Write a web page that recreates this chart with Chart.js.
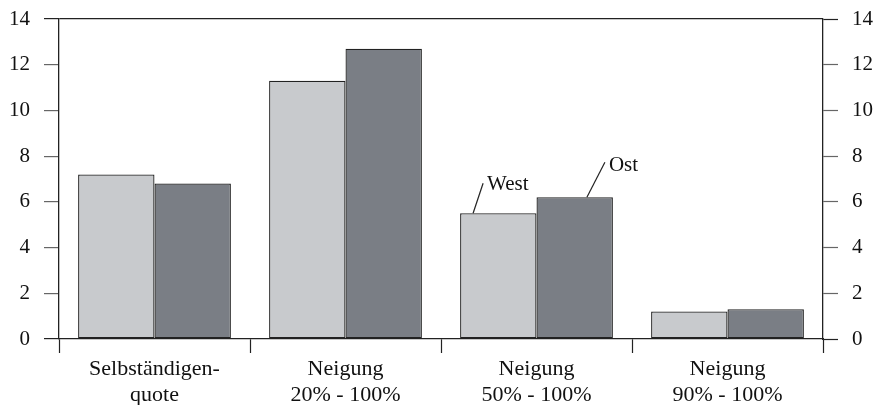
<!DOCTYPE html>
<html>
<head>
<meta charset="utf-8">
<script src="https://cdn.jsdelivr.net/npm/chart.js@4/dist/chart.umd.min.js"></script>
<style>
  html, body { margin: 0; padding: 0; background: #fff; }
  canvas { display: block; }
</style>
</head>
<body>
<canvas id="c" width="875" height="405"></canvas>
<script>
const categories = [
  ["Selbständigen-", "quote"],
  ["Neigung", "20% - 100%"],
  ["Neigung", "50% - 100%"],
  ["Neigung", "90% - 100%"]
];
const westValues = [7.2, 11.3, 5.5, 1.2];
const ostValues  = [6.8, 12.7, 6.2, 1.3];
const seriesNames = ["West", "Ost"];
const yTicks = [0, 2, 4, 6, 8, 10, 12, 14];

const FONT = "'Liberation Serif', 'Times New Roman', serif";
const DARK = '#222222';

const tickCol = (ctx) => (ctx.tick && (ctx.tick.value === 14 || ctx.tick.value === 0)) ? DARK : '#666666';

const annotatePlugin = {
  id: 'annotate',
  afterDatasetsDraw(chart) {
    const c = chart.ctx;
    const w = chart.getDatasetMeta(0).data[2];
    const o = chart.getDatasetMeta(1).data[2];
    c.save();
    c.strokeStyle = DARK;
    c.lineWidth = 1.2;
    c.fillStyle = '#111';
    c.font = '21px ' + FONT;
    c.textBaseline = 'alphabetic';
    // West
    let x0 = w.x - w.width / 2 + 13, y0 = w.y;
    let x1 = x0 + 10, y1 = y0 - 30;
    c.beginPath(); c.moveTo(x0, y0); c.lineTo(x1, y1); c.stroke();
    c.fillText(seriesNames[0], x1 + 4, y0 - 23);
    // Ost
    x0 = o.x + o.width / 2 - 26; y0 = o.y;
    x1 = x0 + 18; y1 = y0 - 35;
    c.beginPath(); c.moveTo(x0, y0); c.lineTo(x1, y1); c.stroke();
    c.fillText(seriesNames[1], x1 + 4, y0 - 26);
    c.restore();
  }
};

function fitY(width) {
  return function (s) {
    s.width = width;
    s.paddingTop = 0;
    s.paddingBottom = 0;
  };
}

new Chart(document.getElementById('c'), {
  type: 'bar',
  data: {
    labels: categories,
    datasets: [
      { label: seriesNames[0], data: westValues, backgroundColor: '#c8cacd', borderColor: DARK, borderWidth: 1.3, borderSkipped: false, yAxisID: 'y' },
      { label: seriesNames[1], data: ostValues, backgroundColor: '#7a7e85', borderColor: DARK, borderWidth: 1.3, borderSkipped: false, yAxisID: 'y' }
    ]
  },
  options: {
    responsive: false,
    animation: false,
    devicePixelRatio: 1,
    layout: { padding: { top: 19, left: 0, right: 0, bottom: 0 } },
    plugins: { legend: { display: false }, tooltip: { enabled: false } },
    datasets: { bar: { categoryPercentage: 0.8, barPercentage: 1.0 } },
    scales: {
      x: {
        type: 'category',
        offset: true,
        grid: { offset: true, drawOnChartArea: false, drawTicks: true, tickLength: 14, color: DARK, tickColor: DARK, tickWidth: 1.2 },
        border: { display: true, color: DARK, width: 1.3 },
        ticks: { color: '#111', font: { family: FONT, size: 22, lineHeight: 1.2 }, padding: 3, maxRotation: 0, autoSkip: false },
        afterFit(s) { s.height = 66; s.paddingLeft = 0; s.paddingRight = 0; }
      },
      y: {
        position: 'left',
        min: 0, max: 14,
        afterBuildTicks(s) { s.ticks = yTicks.map(v => ({ value: v })); },
        grid: {
          drawOnChartArea: true, drawTicks: true, tickLength: 15,
          color: (ctx) => (ctx.tick && ctx.tick.value === 14) ? DARK : 'rgba(0,0,0,0)',
          lineWidth: 1.2, tickColor: tickCol, tickWidth: 1.2
        },
        border: { display: true, color: DARK, width: 1.3 },
        ticks: { color: '#111', font: { family: FONT, size: 21 }, padding: 14 },
        afterFit: fitY(59)
      },
      y2: {
        position: 'right',
        min: 0, max: 14,
        afterBuildTicks(s) { s.ticks = yTicks.map(v => ({ value: v })); },
        grid: { drawOnChartArea: false, drawTicks: true, tickLength: 15, tickColor: tickCol, tickWidth: 1.2, color: DARK },
        border: { display: true, color: DARK, width: 1.3 },
        ticks: { color: '#111', font: { family: FONT, size: 21 }, padding: 14 },
        afterFit: fitY(52)
      }
    }
  },
  plugins: [annotatePlugin]
});
</script>
</body>
</html>
